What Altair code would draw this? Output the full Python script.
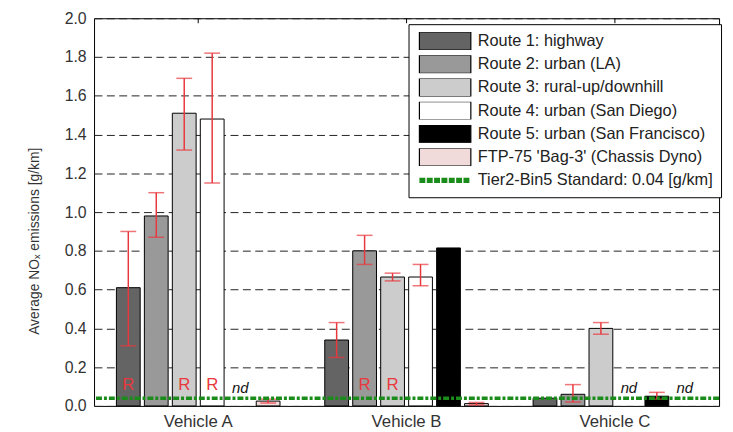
import altair as alt
import pandas as pd

vehicles = ["Vehicle A", "Vehicle B", "Vehicle C"]
routes = ["Route 1: highway", "Route 2: urban (LA)", "Route 3: rural-up/downhill",
          "Route 4: urban (San Diego)", "Route 5: urban (San Francisco)",
          "FTP-75 'Bag-3' (Chassis Dyno)"]
standard_label = "Tier2-Bin5 Standard: 0.04 [g/km]"
standard_value = [0.04]

# mean NOx per route (None = not driven / no data)
mean_a = [0.61, 0.98, 1.51, 1.48, None, 0.025]
mean_b = [0.34, 0.80, 0.665, 0.665, 0.815, 0.012]
mean_c = [0.04, 0.06, 0.40, None, 0.05, None]
# error bar low / high
lo_a = [0.31, 0.87, 1.32, 1.15, None, 0.015]
hi_a = [0.90, 1.10, 1.69, 1.82, None, 0.035]
lo_b = [0.25, 0.73, 0.645, 0.62, None, 0.005]
hi_b = [0.43, 0.88, 0.685, 0.73, None, 0.018]
lo_c = [None, 0.02, 0.37, None, 0.035, None]
hi_c = [None, 0.11, 0.43, None, 0.07, None]
# 'R' markers
rep_a = [True, False, True, True, False, False]
rep_b = [False, True, True, False, False, False]
rep_c = [False, False, False, False, False, False]
# "nd" markers
nd_a = [False, False, False, False, True, False]
nd_b = [False, False, False, False, False, False]
nd_c = [False, False, False, True, False, True]

y_ticks = [0.0, 0.2, 0.4, 0.6, 0.8, 1.0, 1.2, 1.4, 1.6, 1.8, 2.0]

route_colors = ["#646464", "#999999", "#cccccc", "#ffffff", "#000000", "#f0dada", "#1a8c1a"]
RED = "#e8383d"
GREEN = "#1a8c1a"

rows = []
for v, means, los, his, reps, nds in [
    (vehicles[0], mean_a, lo_a, hi_a, rep_a, nd_a),
    (vehicles[1], mean_b, lo_b, hi_b, rep_b, nd_b),
    (vehicles[2], mean_c, lo_c, hi_c, rep_c, nd_c),
]:
    for r, m, lo, hi, rp, nd in zip(routes, means, los, his, reps, nds):
        rows.append({"vehicle": v, "route": r, "value": m, "lo": lo, "hi": hi,
                     "rep": rp, "nd": nd})
df = pd.DataFrame(rows)
df_std = pd.DataFrame({"value": standard_value})

FONT = "Liberation Sans"

x_axis = alt.Axis(title=None, labelAngle=0, labelFontSize=17, labelColor="#333",
                  labelPadding=8, ticks=False, domain=False, grid=False)
x_enc = alt.X("vehicle:N", sort=vehicles,
              scale=alt.Scale(domain=vehicles, paddingInner=0, paddingOuter=0),
              axis=x_axis)
xo_enc = alt.XOffset("route:N", sort=routes,
                     scale=alt.Scale(domain=routes, paddingInner=0.15, paddingOuter=0.8))
y_scale = alt.Scale(domain=[0, 2], nice=False)
y_axis = alt.Axis(title="Average NOₓ emissions [g/km]", values=y_ticks, format=".1f",
                  labelFontSize=16, labelColor="#333", labelPadding=8,
                  ticks=False, domain=False,
                  grid=True, gridDash=[8, 4.5], gridColor="#222", gridWidth=1,
                  titleFontSize=14, titleFontWeight="normal", titleColor="#333",
                  titleX=-60, titleY=225, titleAlign="center", titleBaseline="middle",
                  titleAngle=270)

rect_path = "M-1,-0.35L1,-0.35L1,0.35L-1,0.35Z"
dash_path = "".join(f"M{-1 + i * 0.2857:.3f},-0.1h0.23v0.2h-0.23Z" for i in range(7))
is_std = f"datum.value === '{standard_label}'"
legend = alt.Legend(
    title=None, orient="none", legendX=318, legendY=6, direction="vertical",
    symbolType=alt.ExprRef(expr=f"{is_std} ? '{dash_path}' : '{rect_path}'"),
    symbolSize=2704, symbolOffset=2,
    symbolStrokeColor=alt.ExprRef(expr=f"{is_std} ? 'transparent' : 'black'"),
    symbolStrokeWidth=1.2,
    symbolOpacity=1, clipHeight=18,
    labelFontSize=16.5, labelColor="#222", labelOffset=6, labelLimit=400,
    rowPadding=5.5, padding=8, strokeColor="black", fillColor="white",
)

base = alt.Chart(df)

bars = base.transform_filter("isValid(datum.value)").mark_bar(
    stroke="black", strokeWidth=1, opacity=1).encode(
    x=x_enc, xOffset=xo_enc,
    y=alt.Y("value:Q", scale=y_scale, axis=y_axis),
    fill=alt.Fill("route:N", scale=alt.Scale(domain=routes + [standard_label],
                                             range=route_colors), legend=legend),
)

err = base.transform_filter("isValid(datum.lo)").mark_rule(
    color=RED, strokeWidth=1.5).encode(
    x=x_enc, xOffset=xo_enc,
    y=alt.Y("lo:Q", scale=y_scale, axis=y_axis), y2="hi:Q")

cap_lo = base.transform_filter("isValid(datum.lo)").mark_tick(
    color=RED, orient="horizontal", size=16, thickness=1.5).encode(
    x=x_enc, xOffset=xo_enc, y=alt.Y("lo:Q", scale=y_scale, axis=y_axis))
cap_hi = base.transform_filter("isValid(datum.hi)").mark_tick(
    color=RED, orient="horizontal", size=16, thickness=1.5).encode(
    x=x_enc, xOffset=xo_enc, y=alt.Y("hi:Q", scale=y_scale, axis=y_axis))

r_text = base.transform_filter("datum.rep").mark_text(
    text="R", color=RED, fontSize=17, baseline="middle").encode(
    x=x_enc, xOffset=xo_enc, y=alt.Y(datum=0.11, scale=y_scale, axis=y_axis))

nd_text = base.transform_filter("datum.nd").mark_text(
    text="nd", color="#111", fontSize=15, fontStyle="italic", baseline="middle").encode(
    x=x_enc, xOffset=xo_enc, y=alt.Y(datum=0.09, scale=y_scale, axis=y_axis))

top_ticks = alt.Chart(pd.DataFrame({"vehicle": vehicles})).mark_rule(
    color="black", strokeWidth=1).encode(
    x=x_enc, y=alt.value(0), y2=alt.value(5))

tier2 = alt.Chart(df_std).mark_rule(
    color=GREEN, strokeWidth=3.5, strokeDash=[6, 2, 3, 2]).encode(
    y=alt.Y("value:Q", scale=y_scale, axis=y_axis))

chart = alt.layer(bars, err, cap_lo, cap_hi, r_text, nd_text, top_ticks, tier2).properties(
    width=632, height=392,
    autosize=alt.AutoSizeParams(type="none"),
    padding={"left": 87, "top": 8, "right": 6, "bottom": 24},
    background="white",
).configure(font=FONT).configure_view(stroke="black", strokeWidth=1)

chart.save("out.html", embed_options={"renderer": "svg", "actions": False})
